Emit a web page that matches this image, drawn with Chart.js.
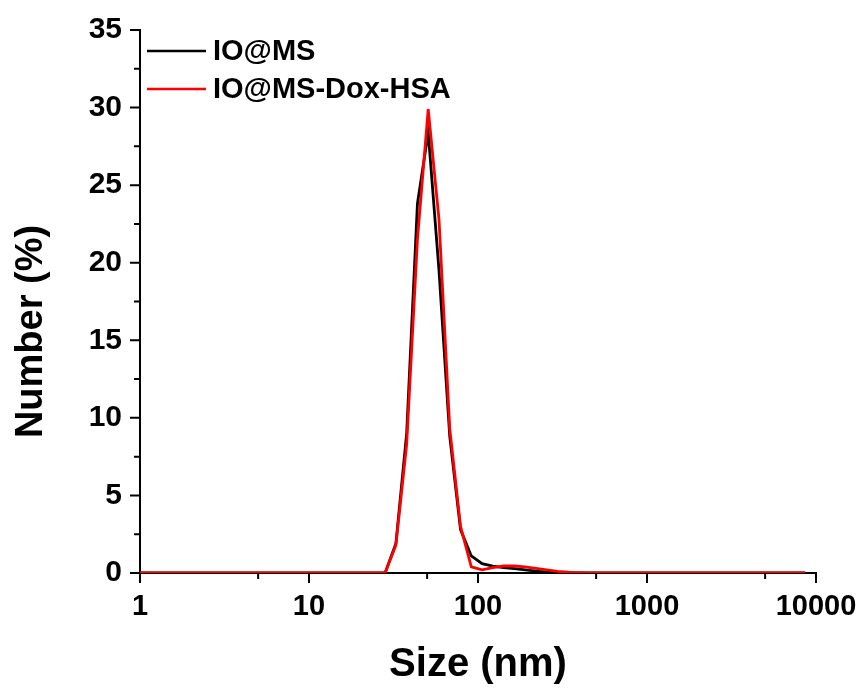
<!DOCTYPE html>
<html>
<head>
<meta charset="utf-8">
<script src="https://cdn.jsdelivr.net/npm/chart.js@4.4.0/dist/chart.umd.min.js"></script>
<style>
  html, body { margin: 0; padding: 0; background: #fff; }
</style>
</head>
<body>
<canvas id="dlsChart" width="864" height="690"></canvas>
<script>
// size bins (nm)
const sizes = [0.9649, 1.117, 1.294, 1.499, 1.736, 2.010, 2.328, 2.696, 3.122, 3.615,
  4.187, 4.849, 5.615, 6.503, 7.531, 8.721, 10.10, 11.70, 13.54, 15.69,
  18.17, 21.04, 24.36, 28.21, 32.67, 37.84, 43.82, 50.75, 58.77, 68.06,
  78.82, 91.28, 105.7, 122.4, 141.8, 164.2, 190.1, 220.2, 255.0, 295.3,
  342.0, 396.1, 458.7, 531.2, 615.1, 712.4, 825.0, 955.4, 1106, 1281,
  1484, 1718, 1990, 2305, 2669, 3091, 3580, 4145, 4801, 5560,
  6439, 7456, 8635];

const ioMS = [0, 0, 0, 0, 0, 0, 0, 0, 0, 0,
  0, 0, 0, 0, 0, 0, 0, 0, 0, 0,
  0, 0, 0, 0, 1.9, 9.0, 23.8, 28.4, 19.5, 8.8,
  2.8, 1.1, 0.6, 0.45, 0.35, 0.28, 0.2, 0.12, 0.06, 0.02,
  0, 0, 0, 0, 0, 0, 0, 0, 0, 0,
  0, 0, 0, 0, 0, 0, 0, 0, 0, 0,
  0, 0, 0];

const ioMSDoxHSA = [0, 0, 0, 0, 0, 0, 0, 0, 0, 0,
  0, 0, 0, 0, 0, 0, 0, 0, 0, 0,
  0, 0, 0, 0, 1.8, 8.3, 21.5, 29.9, 22.8, 9.3,
  3.0, 0.4, 0.2, 0.35, 0.45, 0.45, 0.4, 0.3, 0.2, 0.1,
  0.05, 0.02, 0, 0, 0, 0, 0, 0, 0, 0,
  0, 0, 0, 0, 0, 0, 0, 0, 0, 0,
  0, 0, 0];

const seriesLabels = ['IO@MS', 'IO@MS-Dox-HSA'];
const seriesColors = ['#000000', '#ff0000'];

const xTicks = [1, 10, 100, 1000, 10000];
const xMinorTicks = [5, 50, 500, 5000];
const yTicks = [0, 5, 10, 15, 20, 25, 30, 35];
const yMinorTicks = [2.5, 7.5, 12.5, 17.5, 22.5, 27.5, 32.5];

const FONT = '"Liberation Sans", Arial, sans-serif';

// tick marks, legend and y title drawn on top of the library's axes
const axisDecor = {
  id: 'axisDecor',
  afterDraw(chart) {
    const ctx = chart.ctx;
    const xs = chart.scales.x, ys = chart.scales.y;
    const area = chart.chartArea;
    ctx.save();
    ctx.strokeStyle = '#000';
    ctx.lineWidth = 2;
    ctx.beginPath();
    xTicks.forEach(v => { const p = xs.getPixelForValue(v); ctx.moveTo(p, area.bottom); ctx.lineTo(p, area.bottom + 10); });
    xMinorTicks.forEach(v => { const p = xs.getPixelForValue(v); ctx.moveTo(p, area.bottom); ctx.lineTo(p, area.bottom + 6); });
    yTicks.forEach(v => { const p = ys.getPixelForValue(v); ctx.moveTo(area.left, p); ctx.lineTo(area.left - 10, p); });
    yMinorTicks.forEach(v => { const p = ys.getPixelForValue(v); ctx.moveTo(area.left, p); ctx.lineTo(area.left - 6, p); });
    ctx.stroke();

    // legend
    ctx.font = 'bold 29px ' + FONT;
    ctx.textBaseline = 'middle';
    ctx.textAlign = 'left';
    chart.data.datasets.forEach((ds, i) => {
      const ly = area.top + 21 + i * 38;
      ctx.strokeStyle = ds.borderColor;
      ctx.lineWidth = 2.5;
      ctx.beginPath();
      ctx.moveTo(area.left + 7, ly);
      ctx.lineTo(area.left + 66, ly);
      ctx.stroke();
      ctx.fillStyle = '#000';
      ctx.fillText(ds.label, area.left + 73, ly + 1);
    });

    // y axis title
    ctx.font = 'bold 38px ' + FONT;
    ctx.textAlign = 'center';
    ctx.translate(32, (area.top + area.bottom) / 2 + 30);
    ctx.rotate(-Math.PI / 2);
    ctx.fillText('Number (%)', 0, 0);
    ctx.restore();
  }
};

document.addEventListener('DOMContentLoaded', () => {
  const ctx = document.getElementById('dlsChart').getContext('2d');
  new Chart(ctx, {
    type: 'line',
    data: {
      labels: sizes,
      datasets: [
        { label: seriesLabels[0], data: ioMS, borderColor: seriesColors[0], borderWidth: 2.8, pointRadius: 0, tension: 0, order: 1 },
        { label: seriesLabels[1], data: ioMSDoxHSA, borderColor: seriesColors[1], borderWidth: 2.8, pointRadius: 0, tension: 0, order: 0 }
      ]
    },
    options: {
      responsive: false,
      animation: false,
      layout: { padding: { top: 30, right: 48, left: 0, bottom: 0 } },
      plugins: { legend: { display: false }, tooltip: { enabled: false } },
      scales: {
        x: {
          type: 'logarithmic',
          min: 1, max: 10000,
          grid: { display: false, drawTicks: false },
          border: { display: true, color: '#000', width: 2 },
          afterBuildTicks: s => { s.ticks = xTicks.map(v => ({ value: v })); },
          afterFit: s => { s.height = 117; s.paddingLeft = 0; s.paddingRight = 0; },
          ticks: {
            color: '#000', padding: 17, maxRotation: 0, autoSkip: false,
            font: { family: FONT, size: 29, weight: 'bold' },
            callback: v => String(v)
          },
          title: {
            display: true, text: 'Size (nm)', color: '#000',
            font: { family: FONT, size: 40, weight: 'bold' },
            padding: { top: 0, bottom: 1 }
          }
        },
        y: {
          min: 0, max: 35,
          grid: { display: false, drawTicks: false },
          border: { display: true, color: '#000', width: 2 },
          afterBuildTicks: s => { s.ticks = yTicks.map(v => ({ value: v })); },
          afterFit: s => { s.width = 140; s.paddingTop = 0; s.paddingBottom = 0; },
          ticks: {
            color: '#000', padding: 18,
            font: { family: FONT, size: 30, weight: 'bold' }
          }
        }
      }
    },
    plugins: [axisDecor]
  });
});
</script>
</body>
</html>
